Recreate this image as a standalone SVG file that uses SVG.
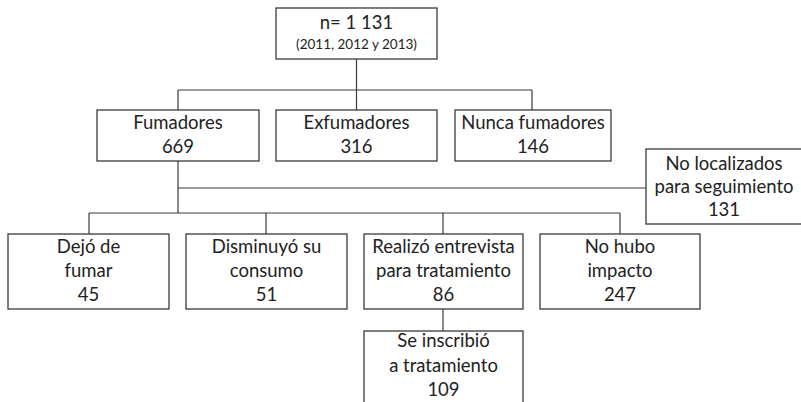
<svg xmlns="http://www.w3.org/2000/svg" width="801" height="402" viewBox="0 0 801 402">
<style>
.box{fill:#fff;stroke:#3a3a3a;stroke-width:1.3}
.ln{fill:none;stroke:#3a3a3a;stroke-width:1.2}
text{font-family:Lato,"Open Sans","DejaVu Sans",sans-serif;font-size:18.5px;fill:#222;text-anchor:middle}
.sm{font-size:13.5px}
</style>
<rect width="801" height="402" fill="#fff"/>
<g id="connectors">
<path class="ln" d="M356.5,59V90M178,90H532M178,90V110M356.5,90V110M532,90V110"/>
<path class="ln" d="M178,161V213M178,188H646"/>
<path class="ln" d="M89,213H620M89,213V234M266,213V234M443,213V234M620,213V234"/>
<path class="ln" d="M443,309V331"/>
</g>
<g id="n-total"><rect class="box" x="276" y="8" width="161" height="51"/><text x="356.5" y="29">n= 1 131</text><text class="sm" x="356.5" y="49">(2011, 2012 y 2013)</text></g>
<g id="fumadores"><rect class="box" x="97" y="110" width="162" height="51"/><text x="178" y="129">Fumadores</text><text x="178" y="153">669</text></g>
<g id="exfumadores"><rect class="box" x="276" y="110" width="161" height="51"/><text x="356.5" y="129">Exfumadores</text><text x="356.5" y="153">316</text></g>
<g id="nunca"><rect class="box" x="455" y="110" width="156" height="51"/><text x="533" y="129">Nunca fumadores</text><text x="533" y="153">146</text></g>
<g id="no-localizados"><rect class="box" x="646" y="149" width="160" height="75"/><text x="724" y="170">No localizados</text><text x="724" y="193">para seguimiento</text><text x="724" y="216">131</text></g>
<g id="dejo"><rect class="box" x="8" y="234" width="161" height="75"/><text x="88.5" y="253">Dejó de</text><text x="88.5" y="277">fumar</text><text x="88.5" y="301">45</text></g>
<g id="disminuyo"><rect class="box" x="186" y="234" width="161" height="75"/><text x="266.5" y="253">Disminuyó su</text><text x="266.5" y="277">consumo</text><text x="266.5" y="301">51</text></g>
<g id="realizo"><rect class="box" x="364" y="234" width="159" height="75"/><text x="443.5" y="253">Realizó entrevista</text><text x="443.5" y="277">para tratamiento</text><text x="443.5" y="301">86</text></g>
<g id="no-hubo"><rect class="box" x="540" y="234" width="160" height="75"/><text x="620" y="253">No hubo</text><text x="620" y="277">impacto</text><text x="620" y="301">247</text></g>
<g id="se-inscribio"><rect class="box" x="364" y="331" width="159" height="80"/><text x="443.5" y="347">Se inscribió</text><text x="443.5" y="372">a tratamiento</text><text x="443.5" y="396">109</text></g>
</svg>
